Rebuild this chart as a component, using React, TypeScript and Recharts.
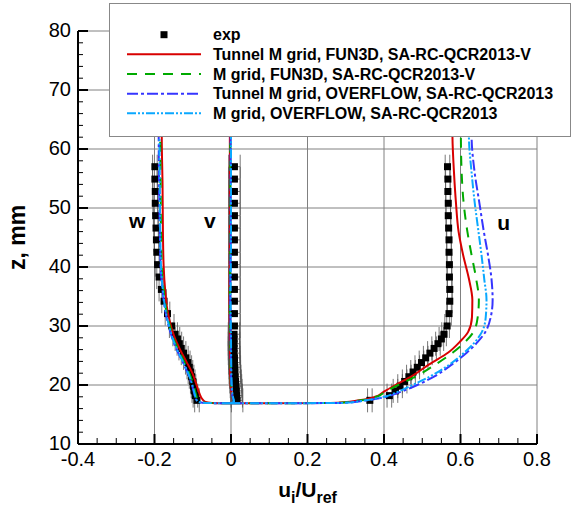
import React from 'react';
import { ComposedChart, Line, Scatter, XAxis, YAxis, CartesianGrid, ErrorBar, ReferenceDot } from 'recharts';

// axis ticks
const xTicks = [-0.4, -0.35, -0.3, -0.25, -0.2, -0.15, -0.1, -0.05, 0, 0.05, 0.1, 0.15, 0.2, 0.25, 0.3, 0.35, 0.4, 0.45, 0.5, 0.55, 0.6, 0.65, 0.7, 0.75, 0.8];
const xMajor = [-0.4, -0.2, 0, 0.2, 0.4, 0.6, 0.8];
const xLabels = ['-0.4', '-0.2', '0', '0.2', '0.4', '0.6', '0.8'];
const yTicks = [10, 12, 14, 16, 18, 20, 22, 24, 26, 28, 30, 32, 34, 36, 38, 40, 42, 44, 46, 48, 50, 52, 54, 56, 58, 60, 62, 64, 66, 68, 70, 72, 74, 76, 78, 80];
const yMajor = [10, 20, 30, 40, 50, 60, 70, 80];
const yLabels = ['10', '20', '30', '40', '50', '60', '70', '80'];

// experiment (z in mm)
const zExp = [17.4, 18.2, 19.0, 19.8, 20.6, 21.4, 22.2, 23.0, 23.8, 24.6, 25.4, 26.2, 27.0, 27.8, 28.6, 30.0, 32.1, 34.2, 36.2, 38.3, 40.4, 42.5, 44.6, 46.6, 48.7, 50.8, 52.8, 54.9, 57.0];
const expW = [-0.089, -0.093, -0.096, -0.098, -0.1, -0.103, -0.106, -0.109, -0.113, -0.118, -0.124, -0.13, -0.135, -0.14, -0.146, -0.155, -0.166, -0.175, -0.182, -0.188, -0.192, -0.194, -0.195, -0.196, -0.197, -0.198, -0.198, -0.199, -0.199];
const expV = [0.016, 0.015, 0.014, 0.013, 0.012, 0.011, 0.01, 0.01, 0.009, 0.009, 0.008, 0.008, 0.008, 0.008, 0.008, 0.009, 0.009, 0.009, 0.009, 0.009, 0.009, 0.009, 0.009, 0.009, 0.009, 0.009, 0.009, 0.009, 0.009];
const expU = [0.363, 0.414, 0.43, 0.442, 0.454, 0.465, 0.476, 0.487, 0.498, 0.509, 0.52, 0.531, 0.541, 0.55, 0.557, 0.565, 0.57, 0.572, 0.572, 0.571, 0.571, 0.57, 0.57, 0.569, 0.568, 0.568, 0.567, 0.567, 0.566];
const errW = 0.006;
const errV = 0.015;
const errU = 0.006;

// CFD profiles
const zW = [80, 62, 54, 46, 40, 36, 33, 30, 28, 26, 24, 22, 20, 18.5, 17.6, 17.15, 16.95, 16.9];
const wTunnelFun3d = [-0.18, -0.181, -0.179, -0.178, -0.176, -0.172, -0.167, -0.157, -0.147, -0.133, -0.117, -0.101, -0.09, -0.082, -0.075, -0.067, -0.05, 0];
const wFun3d = [-0.184, -0.185, -0.184, -0.183, -0.181, -0.176, -0.17, -0.16, -0.151, -0.138, -0.123, -0.109, -0.098, -0.092, -0.087, -0.08, -0.06, 0];
const wTunnelOverflow = [-0.188, -0.189, -0.188, -0.186, -0.184, -0.179, -0.173, -0.163, -0.154, -0.142, -0.127, -0.113, -0.102, -0.096, -0.092, -0.085, -0.065, 0];
const wOverflow = [-0.186, -0.187, -0.186, -0.185, -0.183, -0.178, -0.172, -0.162, -0.153, -0.141, -0.126, -0.112, -0.101, -0.095, -0.091, -0.085, -0.065, 0];

const zV = [80, 60, 45, 35, 28, 22, 20, 18, 17.2, 16.9];
const vTunnelFun3d = [-0.003, -0.003, -0.003, -0.004, -0.003, -0.002, -0.001, 0.003, 0.005, 0];
const vFun3d = [-0.002, -0.002, -0.002, -0.003, -0.002, -0.001, 0, 0.004, 0.006, 0];
const vTunnelOverflow = [-0.001, -0.001, -0.001, -0.002, -0.001, 0, 0.001, 0.004, 0.007, 0];
const vOverflow = [0, 0, 0, -0.001, 0, 0.001, 0.002, 0.005, 0.008, 0];

const zU = [80, 62, 56, 51, 46, 42, 38, 34.4, 31.5, 29, 27.3, 25.5, 23.5, 21.5, 20, 18.8, 18, 17.4, 16.95, 16.9];
const uTunnelFun3d = [0.577, 0.579, 0.583, 0.588, 0.595, 0.607, 0.622, 0.631, 0.63, 0.62, 0.598, 0.568, 0.518, 0.473, 0.43, 0.398, 0.377, 0.335, 0.26, 0];
const uFun3d = [0.6, 0.601, 0.603, 0.608, 0.618, 0.629, 0.641, 0.648, 0.645, 0.634, 0.612, 0.58, 0.535, 0.485, 0.437, 0.402, 0.38, 0.34, 0.265, 0];
const uTunnelOverflow = [0.627, 0.629, 0.637, 0.649, 0.661, 0.672, 0.681, 0.684, 0.679, 0.665, 0.645, 0.617, 0.578, 0.533, 0.487, 0.442, 0.405, 0.355, 0.29, 0];
const uOverflow = [0.62, 0.622, 0.629, 0.637, 0.647, 0.655, 0.662, 0.668, 0.666, 0.656, 0.638, 0.61, 0.572, 0.522, 0.475, 0.434, 0.4, 0.352, 0.29, 0];

const font = '"Liberation Sans", Arial, Helvetica, sans-serif';

const toPts = (xs: number[], zs: number[]) =>
  zs.map((z, i) => ({ x: xs[i], z })).sort((a, b) => a.z - b.z);
const toExp = (xs: number[], err: number) => zExp.map((z, i) => ({ x: xs[i], z, err }));

const series = [
  { name: 'Tunnel M grid, FUN3D, SA-RC-QCR2013-V', color: '#d80000', dash: undefined, w: wTunnelFun3d, v: vTunnelFun3d, u: uTunnelFun3d },
  { name: 'M grid, FUN3D, SA-RC-QCR2013-V', color: '#00aa00', dash: '10 8', w: wFun3d, v: vFun3d, u: uFun3d },
  { name: 'Tunnel M grid, OVERFLOW, SA-RC-QCR2013', color: '#3535ff', dash: '11 3 3 3', w: wTunnelOverflow, v: vTunnelOverflow, u: uTunnelOverflow },
  { name: 'M grid, OVERFLOW, SA-RC-QCR2013', color: '#0aa8ff', dash: '9 2 2 2 2 2', w: wOverflow, v: vOverflow, u: uOverflow },
];

const expSets = [toExp(expW, errW), toExp(expV, errV), toExp(expU, errU)];

const idx = (v: number, list: number[]) => list.findIndex((m) => Math.abs(m - v) < 1e-6);

const XTick = (props: any) => {
  const { x, y, payload } = props;
  const i = idx(payload.value, xMajor);
  const major = i >= 0;
  return (
    <g>
      <line x1={x} x2={x} y1={y} y2={y - (major ? 10 : 6)} stroke="#000" strokeWidth={major ? 2 : 1} />
      {major && (
        <text x={x} y={y + 22} textAnchor="middle" fontSize={20} fontFamily={font} fill="#000">
          {xLabels[i]}
        </text>
      )}
    </g>
  );
};

const YTick = (props: any) => {
  const { x, y, payload } = props;
  const i = idx(payload.value, yMajor);
  const major = i >= 0;
  return (
    <g>
      <line x1={x} x2={x + (major ? 10 : 5)} y1={y} y2={y} stroke="#000" strokeWidth={major ? 2 : 1} />
      {major && (
        <text x={x - 7} y={y + 6} textAnchor="end" fontSize={20} fontFamily={font} fill="#000">
          {yLabels[i]}
        </text>
      )}
    </g>
  );
};

const XTitle = (props: any) => {
  const vb = props.viewBox || { x: 78, y: 444, width: 459, height: 66 };
  return (
    <text x={vb.x + vb.width / 2} y={vb.y + 53} textAnchor="middle" fontFamily={font} fontWeight="bold" fontSize={21} fill="#000">
      u<tspan fontSize={16} dy={6}>i</tspan>
      <tspan dy={-6}>/U</tspan>
      <tspan fontSize={16} dy={6}>ref</tspan>
    </text>
  );
};

const YTitle = (props: any) => {
  const vb = props.viewBox || { x: 0, y: 31, width: 78, height: 413 };
  const cy = vb.y + vb.height / 2;
  return (
    <text x={25} y={cy} transform={`rotate(-90 25 ${cy})`} textAnchor="middle" fontFamily={font} fontWeight="bold" fontSize={23} fill="#000">
      z, mm
    </text>
  );
};

const Square = (p: any) => <rect x={p.cx - 3.5} y={p.cy - 3.5} width={7} height={7} fill="#000" />;

const tag = (s: string) => (p: any) => (
  <text x={p.cx} y={p.cy + 7} textAnchor="middle" fontFamily={font} fontWeight="bold" fontSize={21} fill="#000">
    {s}
  </text>
);

function LegendBox() {
  const rows = [31.7, 51.3, 71, 90.7, 110.3];
  return (
    <div style={{ position: 'absolute', left: 109, top: 3, width: 462, height: 134, boxSizing: 'border-box', border: '1px solid #888', background: '#fff' }}>
      <svg width={460} height={132} style={{ display: 'block' }}>
        <rect x={50.5} y={rows[0] - 3.5 - 1} width={7} height={7} fill="#000" />
        <text x={103} y={rows[0] + 5.5 - 1} fontFamily={font} fontWeight="bold" fontSize={16} fill="#000">exp</text>
        {series.map((s, i) => (
          <g key={s.name}>
            <line x1={17} x2={91} y1={rows[i + 1] - 1} y2={rows[i + 1] - 1} stroke={s.color} strokeWidth={2} strokeDasharray={s.dash} />
            <text x={103} y={rows[i + 1] + 5.5 - 1} fontFamily={font} fontWeight="bold" fontSize={16} fill="#000">
              {s.name}
            </text>
          </g>
        ))}
      </svg>
    </div>
  );
}

export default function App() {
  return (
    <div style={{ position: 'absolute', left: 0, top: 0, width: 575, height: 510, background: '#fff' }}>
      <ComposedChart width={575} height={510} margin={{ top: 31, right: 38, bottom: 0, left: 0 }}>
        <CartesianGrid verticalValues={xMajor} horizontalValues={yMajor} stroke="#808080" strokeWidth={1} />
        <XAxis
          type="number"
          dataKey="x"
          domain={[-0.4, 0.8]}
          ticks={xTicks}
          interval={0}
          allowDataOverflow
          height={66}
          tickSize={0}
          tickMargin={0}
          tickLine={false}
          tick={XTick}
          axisLine={{ stroke: '#000', strokeWidth: 2 }}
          label={XTitle}
        />
        <YAxis
          type="number"
          dataKey="z"
          domain={[10, 80]}
          ticks={yTicks}
          interval={0}
          allowDataOverflow
          width={78}
          tickSize={0}
          tickMargin={0}
          tickLine={false}
          tick={YTick}
          axisLine={{ stroke: '#000', strokeWidth: 2 }}
          label={YTitle}
        />
        {expSets.map((d, i) => (
          <Scatter key={'exp' + i} data={d} dataKey="z" shape={Square} isAnimationActive={false} zIndex={300}>
            <ErrorBar dataKey="err" direction="x" width={12} stroke="#555" strokeWidth={0.8} zIndex={290} />
          </Scatter>
        ))}
        {series.map((s) =>
          (['w', 'v', 'u'] as const).map((k) => (
            <Line
              key={s.name + k}
              data={toPts(s[k], k === 'w' ? zW : k === 'v' ? zV : zU)}
              dataKey="z"
              type="monotoneY"
              stroke={s.color}
              strokeWidth={2}
              strokeDasharray={s.dash}
              dot={false}
              activeDot={false}
              isAnimationActive={false}
              zIndex={400}
            />
          ))
        )}
        <ReferenceDot x={-0.245} y={47.8} r={0} shape={tag('w')} />
        <ReferenceDot x={-0.055} y={47.8} r={0} shape={tag('v')} />
        <ReferenceDot x={0.713} y={47.5} r={0} shape={tag('u')} />
      </ComposedChart>
      <LegendBox />
    </div>
  );
}
